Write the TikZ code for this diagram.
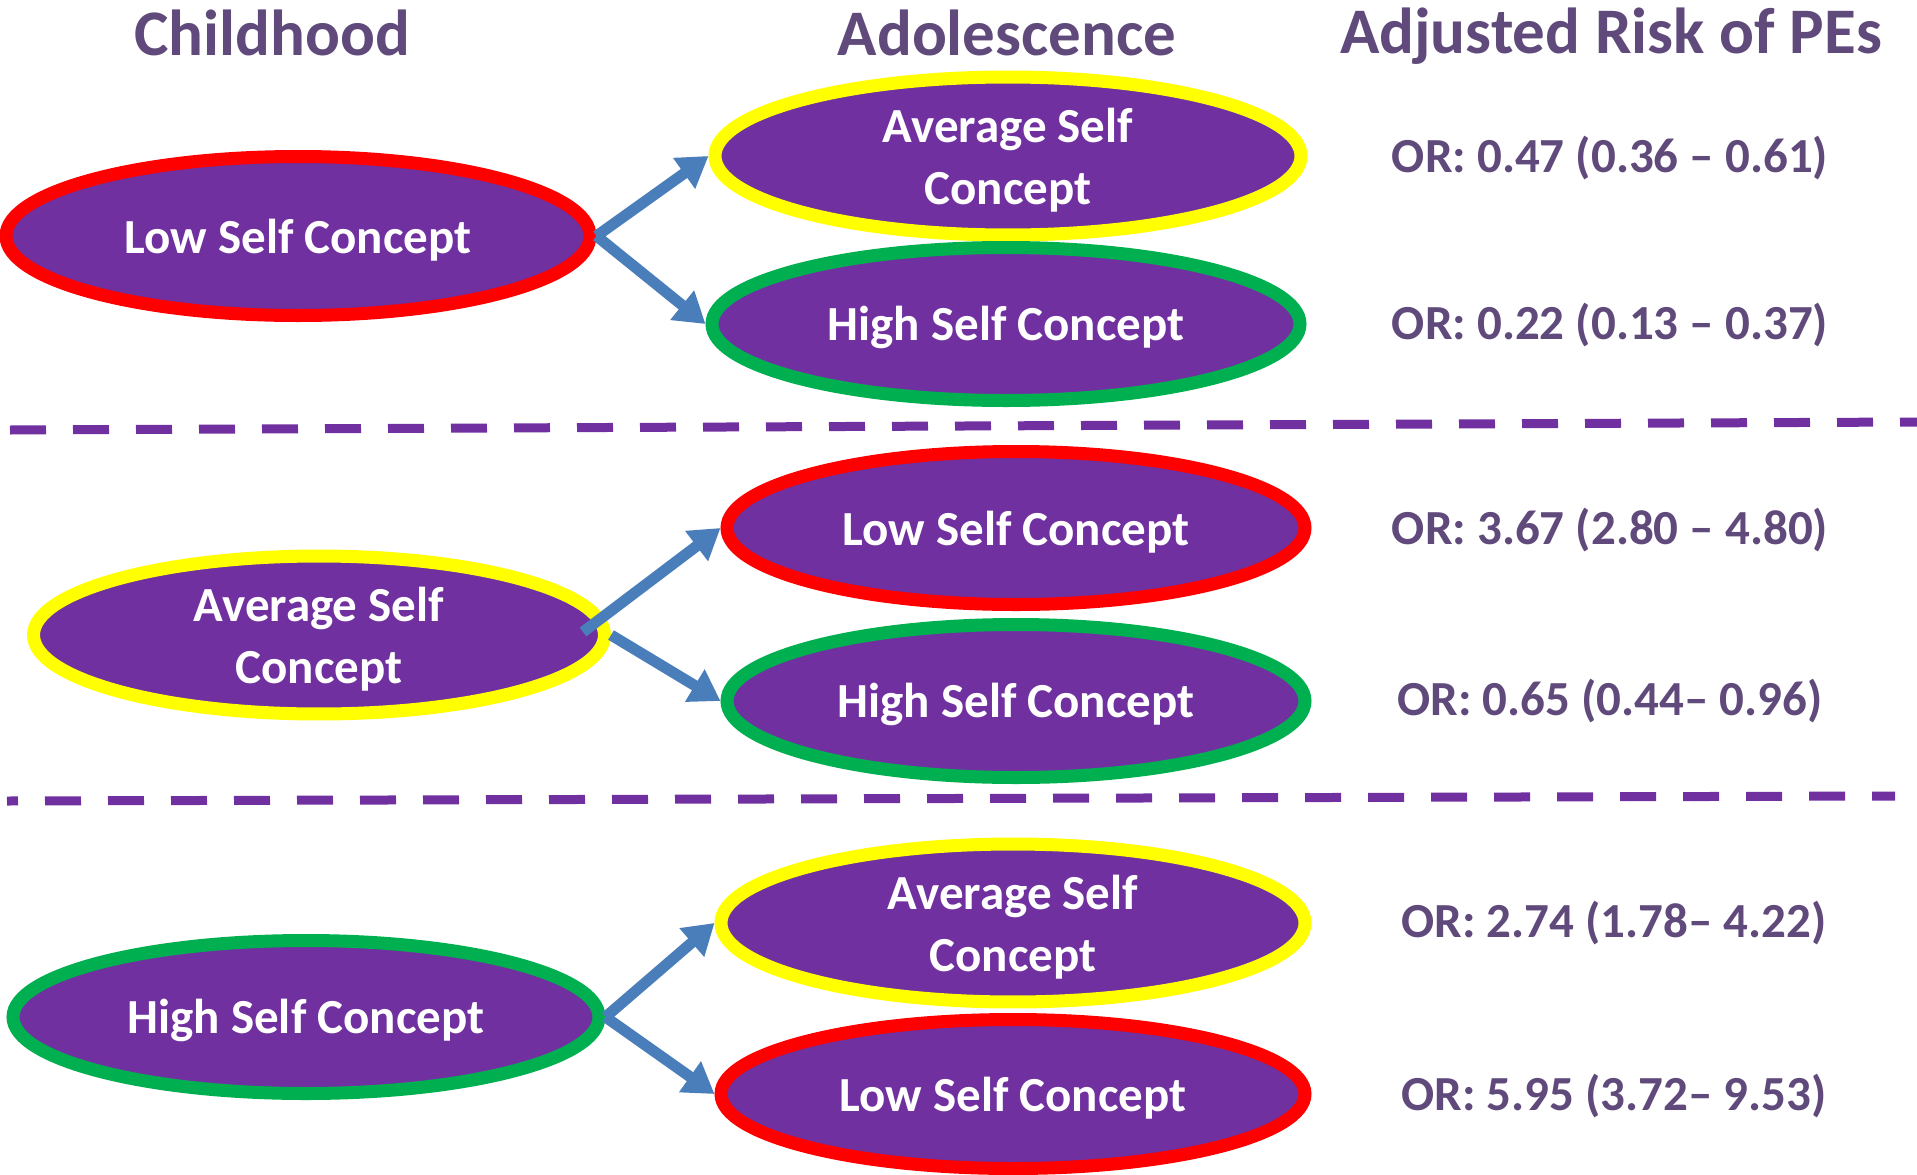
\documentclass[tikz,border=0pt]{standalone}
\usepackage{fontspec}
\setmainfont{Carlito}
\usetikzlibrary{shapes.geometric,arrows.meta}
\definecolor{fillpurple}{HTML}{7030A0}
\definecolor{textpurple}{RGB}{96,74,123}
\definecolor{lowred}{HTML}{FF0000}
\definecolor{avgyellow}{HTML}{FFFF00}
\definecolor{highgreen}{HTML}{00B050}
\definecolor{arrowblue}{HTML}{4A7EBB}
\newcommand\tallstrut{\rule{0pt}{42pt}}
\newcommand\tallerstrut{\rule{0pt}{42pt}}
\begin{document}
\begin{tikzpicture}[x=1pt,y=-1pt,
  state/.style={ellipse, fill=fillpurple, line width=13pt, inner sep=0pt,
    minimum height=153pt, text=white, align=center,
    font=\fontsize{49}{61}\selectfont\bfseries},
  lowstate/.style={state, draw=lowred, execute at begin node=\tallstrut},
  avgstate/.style={state, draw=avgyellow,
    font=\fontsize{49}{62}\selectfont\bfseries},
  highstate/.style={state, draw=highgreen, execute at begin node=\tallstrut},
  coltitle/.style={anchor=base, inner sep=0pt, text=textpurple,
    font=\fontsize{65}{78}\selectfont\bfseries},
  ortext/.style={anchor=base, inner sep=0pt, text=textpurple,
    font=\fontsize{49}{59}\selectfont\bfseries},
  flow/.style={draw=arrowblue, line width=11pt, -{Triangle[width=36pt,length=30pt]}, arrowblue},
  divider/.style={draw=fillpurple, line width=9pt, dash pattern=on 36pt off 27pt}
]
\useasboundingbox (0,0) rectangle (1917,1175);
\fill[white] (0,0) rectangle (1917,1175);

% titles
\node[coltitle] (t1) at (272,55) {Childhood};
\node[coltitle] (t2) at (1007,55) {Adolescence};
\node[coltitle] (t3) at (1611,53) {Adjusted Risk of PEs};

% dividers
\coordinate (d1s) at (10,430);
\coordinate (d1e) at (1917,422);
\coordinate (d2s) at (7,801);
\coordinate (d2e) at (1895,796);
\draw[divider] (d1s) -- (d1e);
\draw[divider, dash phase=25pt] (d2s) -- (d2e);

% ellipses
\node[lowstate, minimum width=584pt, minimum height=159pt] (a1) at (298,236) {Low Self Concept};
\node[avgstate, minimum width=586pt] (b1) at (1008,156) {\tallerstrut Average Self\\Concept};
\node[highstate, minimum width=588pt] (b2) at (1006,324) {High Self Concept};

\node[avgstate, minimum width=571pt] (a2) at (319,635) {\tallerstrut Average Self\\Concept};
\node[lowstate, minimum width=578pt] (b3) at (1016,528) {Low Self Concept};
\node[highstate, minimum width=578pt] (b4) at (1016,701) {High Self Concept};

\node[highstate, minimum width=586pt] (a3) at (306,1017) {High Self Concept};
\node[avgstate, minimum width=584pt] (b5) at (1013,923) {\tallerstrut Average Self\\Concept};
\node[lowstate, minimum width=584pt, minimum height=149pt] (b6) at (1013,1094) {Low Self Concept};

% arrows
\draw[flow] (a1.east) -- (b1.west);
\draw[flow] (a1.east) -- (b2.west);
\draw[flow] ([xshift=-28pt,yshift=3pt]a2.east) -- (b3.west);
\draw[flow] (a2.east) -- (b4.west);
\draw[flow] (a3.east) -- (b5.west);
\draw[flow] (a3.east) -- (b6.west);

% odds ratios
\node[ortext] (or1) at (1610,172) {OR: 0.47 (0.36 – 0.61)};
\node[ortext] (or2) at (1610,339) {OR: 0.22 (0.13 – 0.37)};
\node[ortext] (or3) at (1610,544) {OR: 3.67 (2.80 – 4.80)};
\node[ortext] (or4) at (1610,715) {OR: 0.65 (0.44– 0.96)};
\node[ortext] (or5) at (1614,937) {OR: 2.74 (1.78– 4.22)};
\node[ortext] (or6) at (1614,1110) {OR: 5.95 (3.72– 9.53)};
\end{tikzpicture}
\end{document}
